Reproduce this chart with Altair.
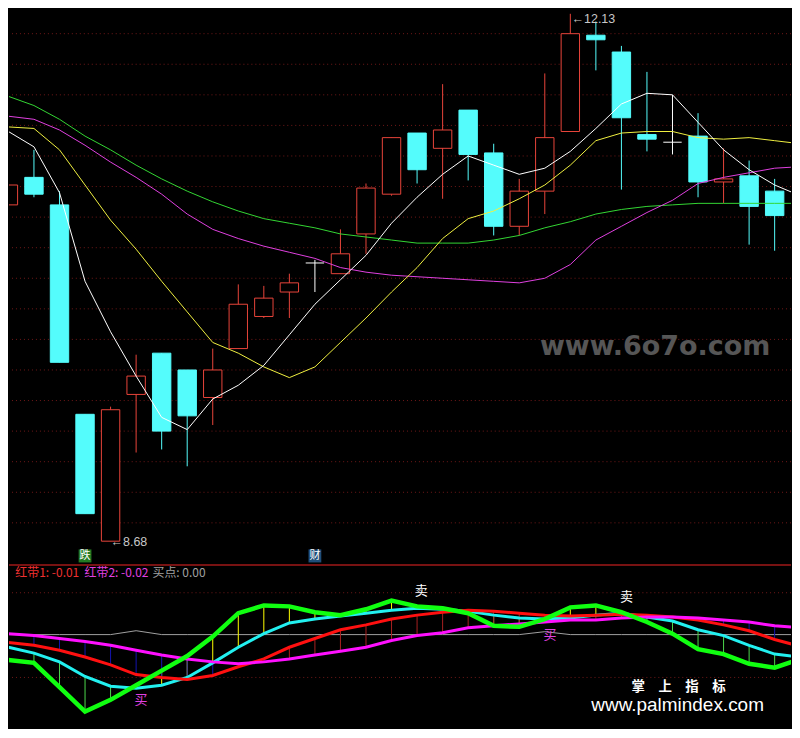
import altair as alt
import pandas as pd

# ---------------- main panel: daily candles ----------------
opens = [10.88, 11.06, 10.88, 9.51, 8.68, 9.64, 9.91, 9.80, 9.62, 9.94,
         10.15, 10.31, 10.50, 10.43, 10.69, 10.95, 11.35, 11.25, 11.50, 11.22,
         10.74, 10.97, 11.36, 11.99, 11.88, 11.34, 11.29, 11.33, 11.03, 11.07, 10.97]
highs = [11.01, 11.24, 10.97, 9.51, 9.56, 9.90, 9.91, 9.80, 9.94, 10.36,
         10.35, 10.43, 10.52, 10.72, 11.02, 11.32, 11.35, 11.67, 11.50, 11.28,
         11.05, 11.74, 12.13, 12.08, 11.92, 11.75, 11.60, 11.48, 11.25, 11.17, 11.05]
lows = [10.88, 10.93, 9.85, 8.86, 8.68, 9.26, 9.28, 9.17, 9.44, 9.94,
        10.14, 10.14, 10.31, 10.43, 10.56, 10.94, 11.02, 10.92, 11.04, 10.68,
        10.68, 10.82, 11.36, 11.76, 10.98, 11.23, 11.21, 10.93, 10.89, 10.62, 10.58]
closes = [11.01, 10.95, 9.85, 8.86, 9.54, 9.76, 9.40, 9.50, 9.80, 10.23,
          10.27, 10.37, 10.50, 10.56, 10.99, 11.32, 11.11, 11.37, 11.21, 10.74,
          10.97, 11.32, 12.00, 11.96, 11.45, 11.31, 11.29, 11.03, 11.05, 10.87, 10.81]

# moving averages (one extra point past the right edge)
ma5 = [11.36, 11.26, 10.96, 10.38, 10.05, 9.76, 9.49, 9.41, 9.61, 9.70,
       9.83, 10.03, 10.23, 10.39, 10.55, 10.76, 10.93, 11.08, 11.20, 11.14,
       11.08, 11.12, 11.23, 11.38, 11.54, 11.61, 11.60, 11.42, 11.24, 11.11, 11.01, 10.94]
ma10 = [11.39, 11.38, 11.24, 11.01, 10.78, 10.59, 10.38, 10.18, 9.98, 9.91,
        9.82, 9.75, 9.82, 9.98, 10.14, 10.31, 10.47, 10.66, 10.79, 10.84,
        10.92, 11.01, 11.14, 11.30, 11.35, 11.36, 11.36, 11.32, 11.31, 11.32, 11.30, 11.28]
ma20 = [11.46, 11.44, 11.37, 11.27, 11.16, 11.06, 10.95, 10.82, 10.72, 10.66,
        10.61, 10.57, 10.53, 10.47, 10.44, 10.42, 10.41, 10.40, 10.39, 10.38,
        10.37, 10.40, 10.49, 10.65, 10.74, 10.83, 10.91, 11.02, 11.06, 11.09, 11.12, 11.13]
ma60 = [11.59, 11.53, 11.44, 11.33, 11.24, 11.14, 11.05, 10.97, 10.90, 10.84,
        10.79, 10.76, 10.73, 10.69, 10.67, 10.65, 10.63, 10.63, 10.63, 10.65,
        10.68, 10.73, 10.77, 10.82, 10.85, 10.87, 10.88, 10.89, 10.89, 10.89, 10.89, 10.89]

grid_prices = [8.8, 9.0, 9.2, 9.4, 9.6, 9.8, 10.0, 10.2, 10.4, 10.6,
               10.8, 11.0, 11.2, 11.4, 11.6, 11.8, 12.0]

price_marks = ["←8.68", "←12.13"]
price_mark_i = [4.0, 22.05]
price_mark_p = [8.672, 12.094]

event_text = ["跌", "财"]
event_i = [3, 12]
event_bg = ["#237a23", "#1f4e79"]

# ---------------- indicator panel ----------------
band_green = [-0.026, -0.029, -0.054, -0.079, -0.067, -0.052, -0.037, -0.022, -0.002, 0.022,
              0.030, 0.029, 0.023, 0.020, 0.026, 0.035, 0.029, 0.027, 0.022, 0.009,
              0.008, 0.016, 0.028, 0.030, 0.023, 0.013, 0.001, -0.015, -0.020, -0.030, -0.034, -0.025]
band_cyan = [-0.013, -0.019, -0.028, -0.043, -0.053, -0.055, -0.052, -0.044, -0.029, -0.013,
             0.001, 0.012, 0.016, 0.019, 0.022, 0.025, 0.027, 0.026, 0.024, 0.020,
             0.017, 0.016, 0.017, 0.020, 0.022, 0.018, 0.014, 0.005, -0.001, -0.011, -0.020, -0.023]
hongdai1 = [-0.008, -0.011, -0.016, -0.023, -0.031, -0.041, -0.044, -0.046, -0.042, -0.033,
            -0.025, -0.013, -0.004, 0.005, 0.010, 0.016, 0.020, 0.023, 0.025, 0.024,
            0.022, 0.020, 0.019, 0.020, 0.021, 0.020, 0.018, 0.015, 0.010, 0.004, -0.005, -0.012]
hongdai2 = [0.001, -0.001, -0.004, -0.007, -0.011, -0.016, -0.021, -0.025, -0.028, -0.030,
            -0.028, -0.025, -0.021, -0.017, -0.013, -0.006, -0.001, 0.002, 0.007, 0.009,
            0.011, 0.013, 0.015, 0.015, 0.017, 0.018, 0.018, 0.017, 0.015, 0.013, 0.009, 0.007]
buy_point = [0, 0, 0, 0, 0, 0.004, 0, 0, 0, 0,
             0, 0, 0, 0, 0, 0, 0, 0, 0, 0,
             0, 0.003, 0, 0, 0, 0, 0, 0, 0, 0, 0, 0]
ind_grid = [0.043, -0.044]

header_text = ["红带1: -0.01", "红带2: -0.02", "买点: 0.00"]
header_i = [0.27, 2.98, 5.64]
header_col = ["#ee3030", "#e040e0", "#a0a0a0"]

signal_text = ["买", "卖", "买", "卖"]
signal_i = [5.19, 16.16, 21.2, 24.2]
signal_v = [-0.067, 0.045, 0.0, 0.039]
signal_col = ["#e040e0", "#ffffff", "#e040e0", "#ffffff"]

# ---------------- styling ----------------
W, HM, HI = 784, 556, 164
RED = "#e8443a"
CYAN = "#54fcfc"
GRID = "#701818"
xs = alt.Scale(domain=[0.023, 30.64], nice=False, zero=False)
ys = alt.Scale(domain=[8.534, 12.162], nice=False, zero=False)
yi = alt.Scale(domain=[-0.096, 0.072], nice=False, zero=False)

kinds = ["up" if c > o else ("down" if c < o else "flat") for o, c in zip(opens, closes)]
candles = pd.DataFrame(dict(i=list(range(len(opens))), open=opens, high=highs,
                            low=lows, close=closes, kind=kinds))
kind_stroke = alt.Scale(domain=["up", "down", "flat"], range=[RED, CYAN, "#ffffff"])
kind_fill = alt.Scale(domain=["up", "down", "flat"], range=["#000000", CYAN, "#ffffff"])

n_line = len(ma5)
ma_df = pd.DataFrame(dict(i=list(range(n_line)), ma5=ma5, ma10=ma10, ma20=ma20, ma60=ma60))

X = lambda f: alt.X(f, scale=xs, axis=None)
YM = lambda f: alt.Y(f, scale=ys, axis=None)
YI = lambda f: alt.Y(f, scale=yi, axis=None)

grid = alt.Chart(pd.DataFrame({"p": grid_prices})).mark_rule(
    color=GRID, strokeDash=[1, 3], strokeWidth=1).encode(y=YM("p:Q"))

watermark = alt.Chart(pd.DataFrame({"i": [25.32], "p": [9.947], "t": ["www.6o7o.com"]})).mark_text(
    font="DejaVu Sans", fontWeight="bold", fontSize=27, color="#565656",
    align="center", baseline="middle").encode(x=X("i:Q"), y=YM("p:Q"), text="t:N")

wicks = alt.Chart(candles).mark_rule(strokeWidth=1, clip=True).encode(
    x=X("i:Q"), y=YM("high:Q"), y2="low:Q",
    color=alt.Color("kind:N", scale=kind_stroke, legend=None))

bodies = alt.Chart(candles).transform_filter("datum.kind != 'flat'").transform_calculate(
    xl="datum.i - 0.36", xr="datum.i + 0.36").mark_rect(strokeWidth=1, clip=True).encode(
    x=X("xl:Q"), x2="xr:Q", y=YM("open:Q"), y2="close:Q",
    fill=alt.Fill("kind:N", scale=kind_fill, legend=None),
    stroke=alt.Stroke("kind:N", scale=kind_stroke, legend=None))

doji = alt.Chart(candles).transform_filter("datum.kind == 'flat'").transform_calculate(
    xl="datum.i - 0.36", xr="datum.i + 0.36").mark_rule(color="#ffffff", strokeWidth=1).encode(
    x=X("xl:Q"), x2="xr:Q", y=YM("open:Q"))


def ma_line(field, color):
    return alt.Chart(ma_df).mark_line(color=color, strokeWidth=1, clip=True).encode(
        x=X("i:Q"), y=YM(f"{field}:Q"))


price_df = pd.DataFrame({"i": price_mark_i, "p": price_mark_p, "t": price_marks})
price_txt = alt.Chart(price_df).mark_text(
    font="Liberation Sans", fontSize=12.5, color="#c8c8c8", align="left",
    baseline="middle").encode(x=X("i:Q"), y=YM("p:Q"), text="t:N")

ev_df = pd.DataFrame({"i": event_i, "t": event_text, "bg": event_bg})
ev_bg = alt.Chart(ev_df).transform_calculate(
    xl="datum.i - 0.25", xr="datum.i + 0.25", yl="8.541", yh="8.626").mark_rect().encode(
    x=X("xl:Q"), x2="xr:Q", y=YM("yl:Q"), y2="yh:Q",
    fill=alt.Fill("bg:N", scale=None))
ev_txt = alt.Chart(ev_df).transform_calculate(yc="8.583").mark_text(
    font="Noto Sans CJK SC", fontSize=11, color="#ffffff", align="center",
    baseline="middle").encode(x=X("i:Q"), y=YM("yc:Q"), text="t:N")

main = alt.layer(
    grid, watermark, wicks, bodies, doji,
    ma_line("ma60", "#33d633"), ma_line("ma20", "#e040e0"),
    ma_line("ma10", "#f0f040"), ma_line("ma5", "#ffffff"),
    price_txt, ev_bg, ev_txt,
).properties(width=W, height=HM)

# ---------------- indicator layers ----------------
ind_df = pd.DataFrame(dict(i=list(range(n_line)), g=band_green, c=band_cyan,
                           r=hongdai1, m=hongdai2, b=buy_point))
stick_rows = []
for k in range(len(opens)):
    stick_rows.append(dict(i=k, a=band_green[k], z=band_cyan[k],
                           col="#ffff00" if band_green[k] > band_cyan[k] else "#4cd84c"))
    stick_rows.append(dict(i=k, a=hongdai1[k], z=hongdai2[k],
                           col="#a82020" if hongdai1[k] > hongdai2[k] else "#1414b0"))
sticks_df = pd.DataFrame(stick_rows)

igrid = alt.Chart(pd.DataFrame({"v": ind_grid})).mark_rule(
    color=GRID, strokeDash=[1, 3], strokeWidth=1).encode(y=YI("v:Q"))
border = alt.Chart(pd.DataFrame({"v": [0.0715]})).mark_rule(
    color="#a01818", strokeWidth=1.5).encode(y=YI("v:Q"))
sticks = alt.Chart(sticks_df).mark_rule(strokeWidth=1, clip=True).encode(
    x=X("i:Q"), y=YI("a:Q"), y2="z:Q", color=alt.Color("col:N", scale=None))


def ind_line(field, color, w):
    return alt.Chart(ind_df).mark_line(color=color, strokeWidth=w, clip=True).encode(
        x=X("i:Q"), y=YI(f"{field}:Q"))


hdr_df = pd.DataFrame({"i": header_i, "t": header_text, "col": header_col, "v": [0.0635] * 3})
hdr = alt.Chart(hdr_df).mark_text(font="Noto Sans CJK SC", fontSize=12, align="left",
                                  baseline="middle").encode(
    x=X("i:Q"), y=YI("v:Q"), text="t:N", color=alt.Color("col:N", scale=None))

sig_df = pd.DataFrame({"i": signal_i, "v": signal_v, "t": signal_text, "col": signal_col})
sig = alt.Chart(sig_df).mark_text(font="Noto Sans CJK SC", fontSize=13, align="center",
                                  baseline="middle").encode(
    x=X("i:Q"), y=YI("v:Q"), text="t:N", color=alt.Color("col:N", scale=None))

logo1 = alt.Chart(pd.DataFrame({"i": [26.24], "v": [-0.0535], "t": ["掌　上　指　标"]})).mark_text(
    font="Noto Sans CJK SC", fontSize=13.5, fontWeight="bold", color="#ffffff",
    align="center", baseline="middle").encode(x=X("i:Q"), y=YI("v:Q"), text="t:N")
logo2 = alt.Chart(pd.DataFrame({"i": [26.2], "v": [-0.0725], "t": ["www.palmindex.com"]})).mark_text(
    font="Liberation Sans", fontSize=19, color="#ffffff",
    align="center", baseline="middle").encode(x=X("i:Q"), y=YI("v:Q"), text="t:N")

ind = alt.layer(
    igrid, border, ind_line("b", "#a0a0a0", 1), sticks,
    ind_line("c", "#22f0f0", 3), ind_line("r", "#ff1010", 3),
    ind_line("m", "#ff10ff", 3), ind_line("g", "#10ff10", 4.5),
    hdr, sig, logo1, logo2,
).properties(width=W, height=HI)

chart = alt.vconcat(main, ind, spacing=0).properties(
    background="#000000", padding=0
).configure_view(stroke=None)

chart.save("out.html", embed_options={"renderer": "svg", "actions": False})
